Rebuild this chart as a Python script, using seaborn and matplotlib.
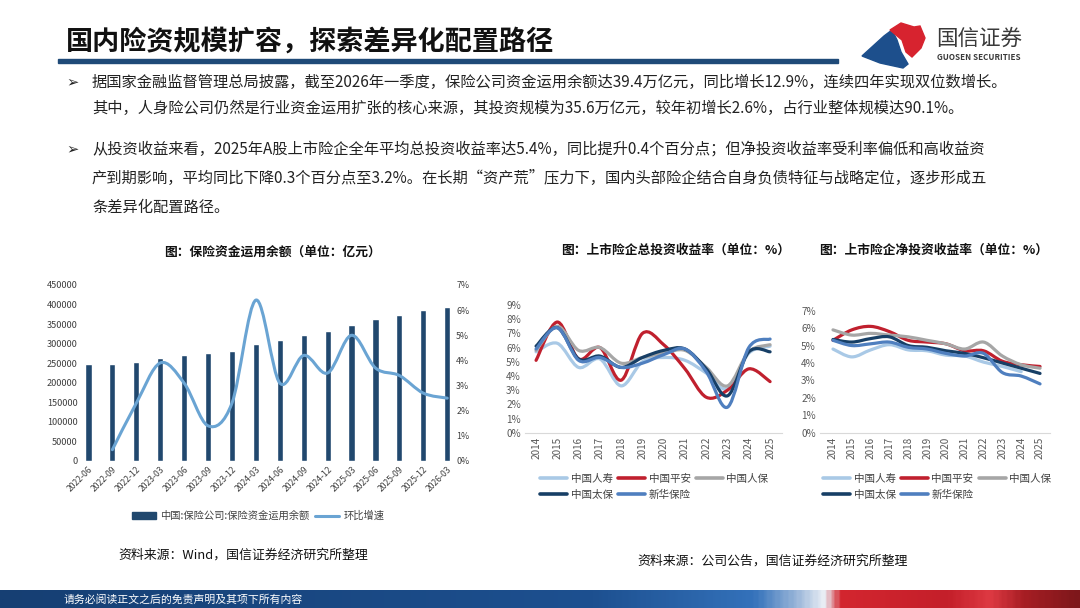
import numpy as np
import pandas as pd
import matplotlib.pyplot as plt
import seaborn as sns
from matplotlib.path import Path
from matplotlib.patches import PathPatch, Rectangle, Polygon
from matplotlib.lines import Line2D
from matplotlib.colors import LinearSegmentedColormap

# 数据：保险资金运用余额（亿元）与环比增速（%）
quarters = ['2022-06', '2022-09', '2022-12', '2023-03', '2023-06', '2023-09', '2023-12', '2024-03',
            '2024-06', '2024-09', '2024-12', '2025-03', '2025-06', '2025-09', '2025-12', '2026-03']
balance = [247000, 248500, 254000, 264000, 271000, 276000, 282000, 300000,
           309500, 322000, 333000, 349000, 362000, 374000, 386000, 394000]
qoq_growth = [np.nan, 0.45, 2.3, 3.9, 3.1, 1.4, 2.3, 6.4,
              3.1, 4.2, 3.5, 5.0, 3.7, 3.4, 2.7, 2.5]

years = list(range(2014, 2026))
companies = ['中国人寿', '中国平安', '中国人保', '中国太保', '新华保险']
line_colors = ['#a9c9e6', '#c0202e', '#a6a6a6', '#173f66', '#4f7fbf']

# 总投资收益率（%）
total_rensh = [5.7, 6.3, 4.6, 5.2, 3.3, 5.0, 5.3, 5.1, 4.2, 3.1, 5.6, 6.1]
total_pingan = [5.1, 7.8, 5.2, 6.0, 3.7, 7.0, 6.2, 4.5, 2.5, 3.0, 4.5, 3.6]
total_renbao = [5.8, 7.5, 5.8, 6.0, 4.9, 5.3, 5.6, 5.8, 4.6, 3.3, 5.7, 6.2]
total_taibao = [6.1, 7.4, 5.2, 5.4, 4.6, 5.3, 5.8, 5.9, 4.5, 2.6, 5.7, 5.7]
total_xinhua = [5.9, 7.4, 5.1, 5.3, 4.6, 4.9, 5.5, 5.9, 4.3, 1.8, 6.0, 6.6]

# 净投资收益率（%）
net_rensh = [4.8, 4.35, 4.75, 5.05, 4.75, 4.7, 4.45, 4.4, 4.05, 3.8, 3.5, np.nan]
net_pingan = [5.3, 5.9, 6.1, 5.8, 5.3, 5.2, 5.1, 4.7, 4.7, 4.1, 3.9, 3.8]
net_renbao = [5.9, 5.6, 5.7, 5.6, 5.5, 5.3, 5.1, 4.8, 5.2, 4.4, 3.9, 3.7]
net_taibao = [5.35, 5.2, 5.4, 5.5, 5.0, 4.9, 4.7, 4.55, 4.3, 4.0, 3.7, 3.4]
net_xinhua = [5.3, 5.0, 5.1, 5.2, 4.9, 4.8, 4.55, 4.4, 4.55, 3.45, 3.25, 2.8]

total_series = [total_rensh, total_pingan, total_renbao, total_taibao, total_xinhua]
net_series = [net_rensh, net_pingan, net_renbao, net_taibao, net_xinhua]

sns.set_theme(style='white')
plt.rcParams['font.family'] = ['Noto Sans CJK SC', 'DejaVu Sans']
plt.rcParams['axes.unicode_minus'] = False

W, H = 1080, 608
fig = plt.figure(figsize=(10.8, 6.08), dpi=100)


def fx(px):
    return px / W


def fy(py):
    return 1 - py / H


def box(left, top, right, bottom):
    return [fx(left), fy(bottom), (right - left) / W, (bottom - top) / H]


def smooth_curve(ax, x, y, color, lw):
    # 平滑折线（类似Excel平滑线），控制点由数据点推得
    pts = np.array([(a, b) for a, b in zip(x, y) if not np.isnan(b)], dtype=float)
    verts = [pts[0]]
    codes = [Path.MOVETO]
    n = len(pts)
    for i in range(n - 1):
        p0 = pts[i - 1] if i > 0 else pts[i]
        p1, p2 = pts[i], pts[i + 1]
        p3 = pts[i + 2] if i + 2 < n else pts[i + 1]
        verts += [p1 + (p2 - p0) / 6, p2 - (p3 - p1) / 6, p2]
        codes += [Path.CURVE4] * 3
    ax.add_patch(PathPatch(Path(verts, codes), fill=False, edgecolor=color, lw=lw,
                           capstyle='round', joinstyle='round'))


# ---------- 标题与正文 ----------
fig.text(fx(66), fy(42), '国内险资规模扩容，探索差异化配置路径', fontsize=19.5,
         fontweight='bold', color='#111111', va='center')
fig.patches.append(Rectangle((fx(58), fy(63)), fx(838) - fx(58), 3.5 / H,
                             transform=fig.transFigure, color='#1f4a78'))

# 标志
blue_shape = [(862, 56), (884, 36), (892, 30), (897, 40), (901, 52), (908, 64), (903, 68), (880, 63)]
red_shape = [(890, 30), (901, 23), (914, 27), (920, 26), (925, 38), (921, 48), (912, 57), (906, 52), (902, 40)]
fig.patches.append(Polygon([(fx(a), fy(b)) for a, b in blue_shape], closed=True,
                           transform=fig.transFigure, color='#1d4f8c'))
fig.patches.append(Polygon([(fx(a), fy(b)) for a, b in red_shape], closed=True,
                           transform=fig.transFigure, color='#d7232f'))
fig.text(fx(936), fy(39), '国信证券', fontsize=15.5, color='#3a3a3a', va='center')
fig.text(fx(937), fy(57), 'GUOSEN SECURITIES', fontsize=5.8, fontweight='bold',
         color='#3a3a3a', va='center')

body = [
    (82, True, '据国家金融监督管理总局披露，截至2026年一季度，保险公司资金运用余额达39.4万亿元，同比增长12.9%，连续四年实现双位数增长。'),
    (108, False, '其中，人身险公司仍然是行业资金运用扩张的核心来源，其投资规模为35.6万亿元，较年初增长2.6%，占行业整体规模达90.1%。'),
    (149, True, '从投资收益来看，2025年A股上市险企全年平均总投资收益率达5.4%，同比提升0.4个百分点；但净投资收益率受利率偏低和高收益资'),
    (178, False, '产到期影响，平均同比下降0.3个百分点至3.2%。在长期“资产荒”压力下，国内头部险企结合自身负债特征与战略定位，逐步形成五'),
    (207, False, '条差异化配置路径。'),
]
for y, bullet, line in body:
    if bullet:
        fig.text(fx(66), fy(y), '➢', fontsize=10.5, color='#222222', va='center',
                 fontweight='bold', family=['DejaVu Sans'])
    fig.text(fx(92), fy(y), line, fontsize=11, color='#222222', va='center')

# ---------- 图1：保险资金运用余额 ----------
fig.text(fx(272), fy(252), '图：保险资金运用余额（单位：亿元）', fontsize=9.2,
         fontweight='bold', ha='center', va='center', color='#111111')
ax1 = fig.add_axes(box(82, 285, 452, 461))
df_bal = pd.DataFrame({'季度': quarters, '余额': balance})
sns.barplot(data=df_bal, x='季度', y='余额', color='#21486e', saturation=1, width=0.26, ax=ax1)
ax1.set_xlim(-0.27, 15.2)
ax1.set_ylim(0, 450000)
ax1.set_yticks(range(0, 450001, 50000))
ax1.set_xlabel('')
ax1.set_ylabel('')
ax1.set_xticks(range(len(quarters)))
ax1.set_xticklabels(quarters, rotation=45, ha='right', va='top', rotation_mode='anchor')
ax1.tick_params(axis='x', labelsize=6.2, colors='#404040', length=0, pad=3)
ax1.tick_params(axis='y', labelsize=6.6, colors='#404040', length=0, pad=3)
for s in ax1.spines.values():
    s.set_visible(False)

ax1b = ax1.twinx()
ax1b.set_ylim(0, 7)
smooth_curve(ax1b, range(len(quarters)), qoq_growth, '#6aa4d3', 2.2)
ax1b.set_yticks(range(8))
ax1b.set_yticklabels([f'{v}%' for v in range(8)])
ax1b.tick_params(axis='y', labelsize=6.4, colors='#404040', length=0, pad=3)
for s in ax1b.spines.values():
    s.set_visible(False)

fig.legend(handles=[Rectangle((0, 0), 1, 1, color='#21486e'),
                    Line2D([], [], color='#6aa4d3', lw=2.2)],
           labels=['中国:保险公司:保险资金运用余额', '环比增速'],
           loc='center', bbox_to_anchor=(fx(258), fy(516)), ncol=2, frameon=False,
           fontsize=7.4, handlelength=2.4, handletextpad=0.4, columnspacing=0.5,
           labelcolor='#404040')
fig.text(fx(118), fy(555), '资料来源：Wind，国信证券经济研究所整理', fontsize=9.3,
         color='#111111', va='center')


# ---------- 图2/图3：上市险企投资收益率 ----------
def yield_panel(rect, xlim, ymax, series, title, title_x, legend_x):
    ax = fig.add_axes(rect)
    ax.set_xlim(*xlim)
    ax.set_ylim(0, ymax)
    for name, vals, c in zip(companies, series, line_colors):
        smooth_curve(ax, years, vals, c, 2.3)
    ax.set_yticks(range(ymax + 1))
    ax.set_yticklabels([f'{v}%' for v in range(ymax + 1)])
    ax.set_xticks(years)
    ax.set_xticklabels([str(y) for y in years], rotation=90, ha='center', va='top')
    ax.tick_params(axis='both', labelsize=7.2, colors='#595959', length=0, pad=3)
    for k, s in ax.spines.items():
        s.set_visible(k == 'bottom')
    ax.spines['bottom'].set_color('#d9d9d9')
    ax.spines['bottom'].set_linewidth(0.8)
    fig.text(title_x, fy(250), title, fontsize=9.2, fontweight='bold',
             ha='center', va='center', color='#111111')
    order = [0, 3, 1, 4, 2]
    handles = [Line2D([], [], color=line_colors[i], lw=2.6) for i in order]
    fig.legend(handles=handles, labels=[companies[i] for i in order],
               loc='upper left', bbox_to_anchor=(legend_x, fy(474)), ncol=3, frameon=False,
               fontsize=7.6, handlelength=2.6, handletextpad=0.3, columnspacing=0.5,
               labelspacing=0.55, labelcolor='#404040', borderaxespad=0, borderpad=0)
    return ax


yield_panel(box(525, 305, 782, 432.7), (2013.48, 2025.56), 9, total_series,
            '图：上市险企总投资收益率（单位：%）', fx(676), fx(540))
yield_panel(box(820, 310.7, 1050, 432.7), (2013.31, 2025.53), 7, net_series,
            '图：上市险企净投资收益率（单位：%）', fx(934), fx(823))

fig.text(fx(637), fy(561), '资料来源：公司公告，国信证券经济研究所整理', fontsize=9.3,
         color='#111111', va='center')

# ---------- 页脚 ----------
footer = fig.add_axes(box(0, 590, 1080, 608))
footer_cmap = LinearSegmentedColormap.from_list('footer', [
    (0.0, '#163f73'), (0.55, '#1d5090'), (0.70, '#3472bb'), (0.74, '#9db8da'),
    (0.765, '#e9eef5'), (0.78, '#d3262f'), (0.88, '#c41f2a'), (0.92, '#de3a43'),
    (0.95, '#a81e24'), (1.0, '#7e171b')])
footer.imshow(np.linspace(0, 1, 400).reshape(1, -1), aspect='auto', cmap=footer_cmap,
              extent=(0, 1, 0, 1))
footer.set_axis_off()
fig.text(fx(64), fy(599), '请务必阅读正文之后的免责声明及其项下所有内容', fontsize=7.8,
         color='white', va='center')

fig.savefig('out.png', dpi=100)
